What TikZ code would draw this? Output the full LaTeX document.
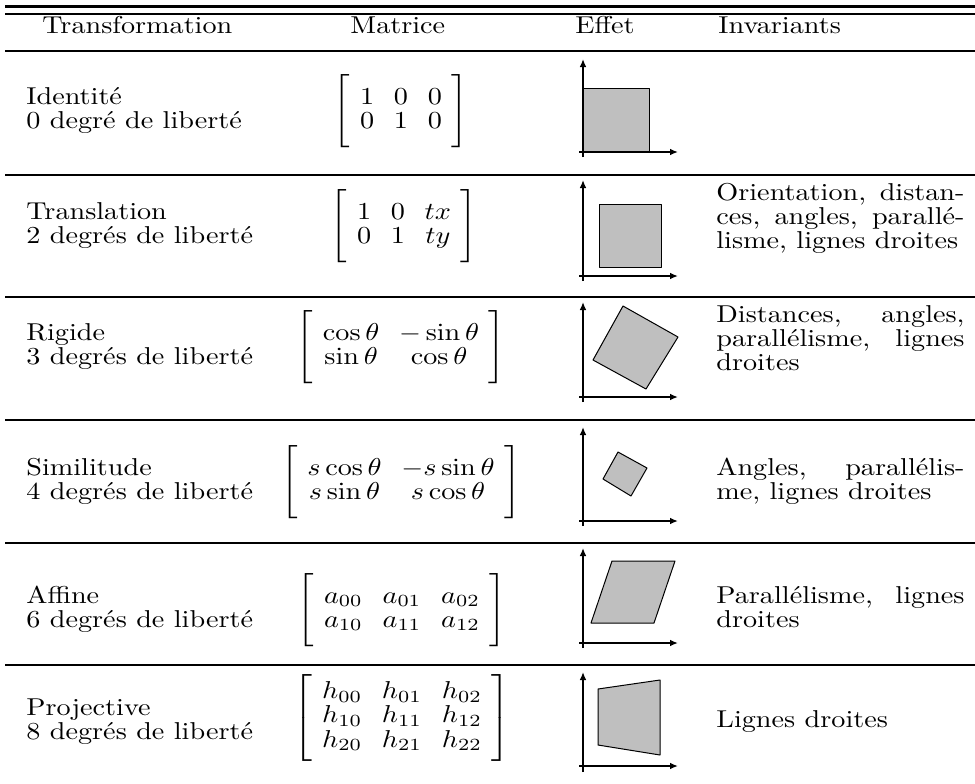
\documentclass[tikz,border=0pt]{standalone}
\usepackage{amsmath}
\usepackage{graphicx}
\usetikzlibrary{arrows.meta}
\newcommand{\hsc}{1.41}
\newcommand{\vsc}{1.22}
\newcommand{\fs}{\fontsize{10}{9.84}\selectfont}
\newcommand{\tx}[1]{\scalebox{\hsc}[\vsc]{\fs #1}}
\newcommand{\mtx}[2]{\scalebox{\hsc}[\vsc]{\fs\setlength{\arraycolsep}{3.5pt}$\left[\vcenter{\hbox{\rule{0pt}{#1}}}#2\right]$}}
\newcommand{\inv}[1]{\scalebox{\hsc}[\vsc]{\fs\parbox[t]{88pt}{\fs\tolerance=10000\hyphenpenalty=10000\parindent=0pt #1}}}
\begin{document}
\begin{tikzpicture}[x=0.5pt,y=-0.5pt,
  rule/.style={line width=1.25pt},
  lbl/.style={inner sep=0pt, anchor=base west},
  mat/.style={inner sep=0pt, anchor=center},
  axisline/.style={line width=1pt, -{Latex[length=4pt,width=3.4pt]}},
  fig/.style={fill=black!25, draw=black, line width=0.5pt, line join=round}]
\useasboundingbox (0,0) rectangle (975,783);
% rules
\draw[rule,line width=1.4pt] (5,6.5) -- (975,6.5);
\draw[rule,line width=1.4pt] (5,14) -- (975,14);
\foreach \y in {51,175,297,420,543,665} \draw[rule] (5,\y) -- (975,\y);
% header
\node[lbl] (hT) at (42,33) {\tx{Transformation}};
\node[lbl] (hM) at (350,33) {\tx{Matrice}};
\node[lbl] (hE) at (575,33) {\tx{Effet}};
\node[lbl] (hI) at (718,33) {\tx{Invariants}};
% column 1
\node[lbl] (t1a) at (26,104) {\tx{Identité}};
\node[lbl] (t1b) at (26,128) {\tx{0 degré de liberté}};
\node[lbl] (t2a) at (26,219) {\tx{Translation}};
\node[lbl] (t2b) at (26,243) {\tx{2 degrés de liberté}};
\node[lbl] (t3a) at (26,340) {\tx{Rigide}};
\node[lbl] (t3b) at (26,364) {\tx{3 degrés de liberté}};
\node[lbl] (t4a) at (26,475) {\tx{Similitude}};
\node[lbl] (t4b) at (26,499) {\tx{4 degrés de liberté}};
\node[lbl] (t5a) at (26,603) {\tx{Affine}};
\node[lbl] (t5b) at (26,627) {\tx{6 degrés de liberté}};
\node[lbl] (t6a) at (26,715) {\tx{Projective}};
\node[lbl] (t6b) at (26,739) {\tx{8 degrés de liberté}};
% matrices
\node[mat] (m1) at (401,111.2) {\mtx{29pt}{\begin{array}{ccc}1&0&0\\0&1&0\end{array}}};
\node[mat] (m2) at (404,226.2) {\mtx{29pt}{\begin{array}{ccc}1&0&tx\\0&1&ty\end{array}}};
\node[mat] (m3) at (401,347.2) {\mtx{29pt}{\begin{array}{cc}\cos\theta&-\sin\theta\\\sin\theta&\cos\theta\end{array}}};
\node[mat] (m4) at (401,482.2) {\mtx{29pt}{\begin{array}{cc}s\cos\theta&-s\sin\theta\\s\sin\theta&s\cos\theta\end{array}}};
\node[mat] (m5) at (402,610.2) {\mtx{29pt}{\begin{array}{ccc}a_{00}&a_{01}&a_{02}\\a_{10}&a_{11}&a_{12}\end{array}}};
\node[mat] (m6) at (402,718) {\mtx{38pt}{\begin{array}{ccc}h_{00}&h_{01}&h_{02}\\h_{10}&h_{11}&h_{12}\\h_{20}&h_{21}&h_{22}\end{array}}};
% invariants
\node[lbl] (i2) at (716,200) {\inv{Orientation, distan-\linebreak ces, angles, parallé-\linebreak lisme, lignes droites}};
\node[lbl] (i3) at (716,322) {\inv{Distances, angles,\linebreak parallélisme, lignes\linebreak droites}};
\node[lbl] (i4) at (716,475) {\inv{Angles, parallélis-\linebreak me, lignes droites}};
\node[lbl] (i5) at (716,603) {\inv{Parallélisme, lignes\linebreak droites}};
\node[lbl] (i6) at (716,727) {\inv{Lignes droites}};
% effects
% row 1
\draw[fig] (583,88) rectangle (649,152);
\draw[axisline] (583,157) -- (583,59);
\draw[axisline] (579,152) -- (678,152);
% row 2
\draw[fig] (599,204) rectangle (661,267);
\draw[axisline] (583,281) -- (583,180);
\draw[axisline] (579,276) -- (678,276);
% row 3
\draw[fig] (623,306) -- (678,337) -- (646,389) -- (593,360) -- cycle;
\draw[axisline] (583,402) -- (583,302);
\draw[axisline] (579,397) -- (678,397);
% row 4
\draw[fig] (618,452) -- (647,468) -- (631,496) -- (603,479) -- cycle;
\draw[axisline] (583,526) -- (583,427);
\draw[axisline] (579,521) -- (678,521);
% row 5
\draw[fig] (612,561) -- (675,561) -- (654,623) -- (591,623) -- cycle;
\draw[axisline] (583,648) -- (583,548);
\draw[axisline] (579,643) -- (678,643);
% row 6
\draw[fig] (598,689) -- (660,680) -- (660,755) -- (598,745) -- cycle;
\draw[axisline] (583,772) -- (583,672);
\draw[axisline] (579,766) -- (678,766);
\end{tikzpicture}
\end{document}
